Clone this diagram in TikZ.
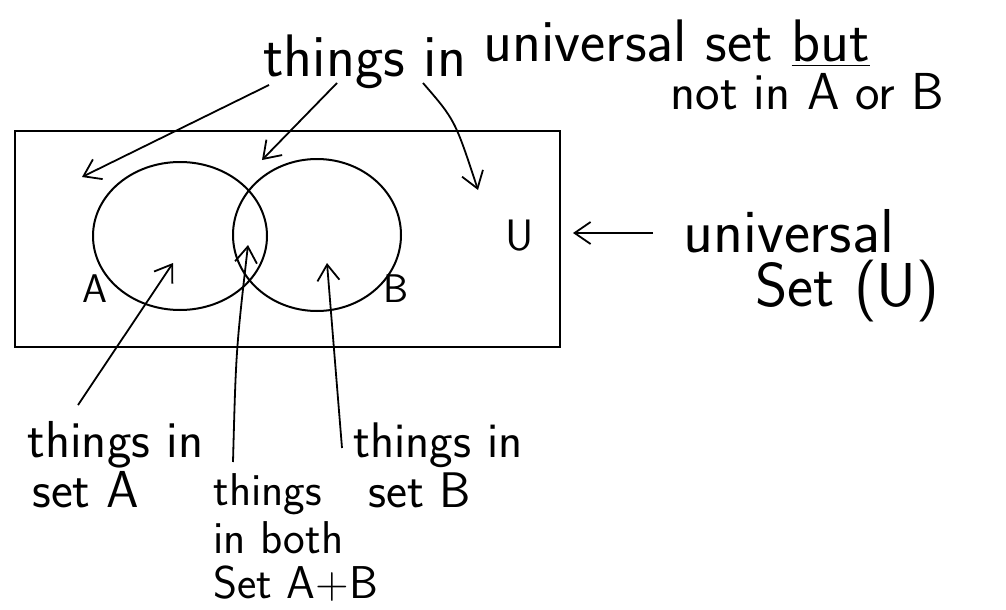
\documentclass[tikz,border=0pt]{standalone}
\usetikzlibrary{arrows.meta}
\begin{document}
\begin{tikzpicture}[
    x=0.5pt,
    y=-0.5pt,
    pen/.style={black, line width=1pt},
    pointer/.style={black, line width=0.9pt, -{Straight Barb[length=8pt,width=11pt]}},
    hand/.style={font=\sffamily\fontsize{#1}{#1}\selectfont, inner sep=0pt, anchor=base west},
    hand/.default=20
]

% =========================================================
% PARAMETRI
% =========================================================

\useasboundingbox (0,0) rectangle (1006,610);

% =========================================================
% INSIEME UNIVERSALE
% =========================================================

\draw[pen] (15,131) rectangle (560,347);

% cerchi
\draw[pen] (180,236) ellipse [x radius=87, y radius=74];
\draw[pen] (317,235) ellipse [x radius=84, y radius=76];

% Etichette
\node[hand=20] (lblA) at (82,302) {A};
\node[hand=20] (lblB) at (383,302) {B};
\node[hand=22] (lblU) at (505,250) {U};

% =========================================================
% TESTI
% =========================================================

\node[hand=30] (outer1) at (263,76) {things in};
\node[hand=30] (outer2) at (483,62) {universal set \underline{but}};
\node[hand=26] (outer3) at (670,110) {not in A or B};

\node[hand=31] (univ1) at (683,252) {universal};
\node[hand=31] (univ2) at (755,306) {Set (U)};

\node[hand=26] (onlyA1) at (27,457) {things in};
\node[hand=26] (onlyA2) at (32,507) {set A};

\node[hand=23] (both1) at (213,505) {things};
\node[hand=23] (both2) at (213,553) {in both};
\node[hand=23] (both3) at (213,598) {Set A+B};

\node[hand=25] (onlyB1) at (353,457) {things in};
\node[hand=25] (onlyB2) at (368,507) {set B};

% =========================================================
% FRECCE
% =========================================================

\coordinate (o1) at (269,85);
\coordinate (o2) at (337,83);
\coordinate (o3) at (423,83);
\coordinate (outLeft) at (82,177);
\coordinate (outMid) at (262,160);
\coordinate (outRight) at (478,190);

\draw[pointer] (o1) -- (outLeft);
\draw[pointer] (o2) -- (outMid);
\draw[pointer] (o3) .. controls (455,120) .. (outRight);

\coordinate (u1) at (653,233);
\coordinate (boxEdge) at (573,233);
\draw[pointer] (u1) -- (boxEdge);

\coordinate (a1) at (78,405);
\coordinate (inA) at (173,263);
\coordinate (c1) at (233,462);
\coordinate (inAB) at (248,245);
\coordinate (b1) at (342,448);
\coordinate (inB) at (327,263);

\draw[pointer] (a1) -- (inA);
\draw[pointer] (c1) .. controls (236,350) .. (inAB);
\draw[pointer] (b1) -- (inB);

\end{tikzpicture}
\end{document}
